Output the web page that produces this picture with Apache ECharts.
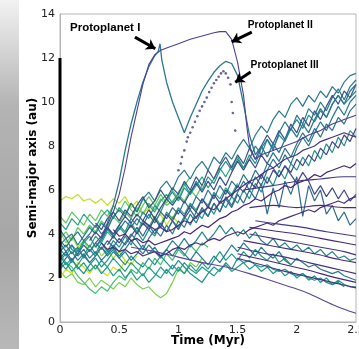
<!DOCTYPE html>
<html><head><meta charset="utf-8">
<script src="https://cdn.jsdelivr.net/npm/echarts/dist/echarts.min.js"></script>
<style>html,body{margin:0;padding:0;background:#fff}#c{width:359px;height:349px}</style>
</head><body><div id="c"></div>
<script>
// time grid (Myr)
const T = [0,0.05,0.1,0.15,0.2,0.25,0.3,0.35,0.4,0.45,0.5,0.55,0.6,0.65,0.7,0.75,0.8,0.85,0.9,0.95,1,1.05,1.1,1.15,1.2,1.25,1.3,1.35,1.4,1.45,1.5,1.55,1.6,1.65,1.7,1.75,1.8,1.85,1.9,1.95,2,2.05,2.1,2.15,2.2,2.25,2.3,2.35,2.4,2.45,2.5];
const xTicks = [0,0.5,1,1.5,2,2.5];
const yTicks = [0,2,4,6,8,10,12,14];
const diskRange = [2,12];

// semi-major axis (au) of bodies on the time grid
const s1 = [5.5,5.7,5.6,5.8,5.5,5.6,5.4,5.6,5.3,5.6, 5.4,5.7,5.2,5.5,4.9,5.2,4.6,4.9,4.4,4.8, 4.5];
const s2 = [2.3,2.0,2.2,1.8,1.7,2.0,1.6,1.9,1.7,1.5, 1.8,1.6,2.0,1.7,1.5,1.6,1.3,1.1,1.3,1.8, 2.4,2.2,2.7,2.5,2.9];
const s3 = [3.1,2.7,2.5,2.1,1.8,1.5,1.3,1.6,1.4,1.8, 2.1,1.9,2.4,2.2,2.7,2.4,2.9,2.6,3.1,2.8, 3.3,3.0,3.5,3.2,3.6,3.4];
const s4 = [2.0,2.4,2.2,2.7,2.5,2.2,2.6,2.3,2.1,2.5, 2.3,2.8,2.6,3.0];
const s5 = [4.1,3.6,3.9,3.4,3.7,3.2,3.5,3.0,3.3,2.9, 3.2,2.8];
const s6 = [3.8,4.1,3.7,4.3,4.0,4.4,4.1,4.6,4.3,4.8, 4.5,5.0,4.7,5.2,4.9,5.4,5.1,5.6,5.3,5.5, 5.8,5.5,6.0,5.7,6.2];
const s7 = [3.3,3.0,3.5,3.2,3.7,3.4,3.9,3.6,4.1,3.8, 4.3,4.0,4.5,4.1,4.6,4.3,4.8,4.4,5.0,4.7, 5.2,4.9,5.4,5.1,5.6,5.3,5.9,5.6,6.1,5.8, 6.3];
const s8 = [2.8,3.1,2.7,3.3,3.0,3.5,3.1,3.6,3.2,3.7, 3.4,3.9,3.5,4.1,3.7,4.2,3.9,4.5,4.1,4.6, 4.3,4.8,4.4,5.0,4.7,5.3,4.9,5.5,5.2,5.7, 5.4,6.0,5.6,6.3,5.9,6.6,6.2,6.9,6.5,7.2, 6.9,7.5,7.1,7.8,7.4,8.1,7.7,8.4,8.0,8.7, 8.4];
const s9 = [4.2,3.8,4.0,3.5,3.9,4.3,4.0,4.5,4.2,4.8, 5.1,4.8,5.4,5.0,5.6,5.9,5.5,6.1,6.4,6.0, 6.6,6.9,6.5,7.0,7.3,6.9,7.5,7.2,7.7,7.4, 7.9,8.3,7.9,8.5,8.9,8.6,9.2,9.6,9.3,9.9, 10.2,9.8,10.3,10.0,10.5,10.2,10.7,10.4,10.9,11.2, 11.3];
const s10 = [3.5,3.8,3.3,3.1,3.6,3.9,3.4,3.7,4.2,3.9, 4.4,4.1,4.7,4.4,5.0,4.7,5.3,5.0,5.6,5.9, 5.5,6.1,5.8,6.4,6.0,6.6,6.3,6.9,7.3,6.9, 7.4,7.0,7.6,7.2,7.9,8.3,7.9,8.5,8.2,8.8, 9.2,8.8,9.4,9.1,9.6,9.3,9.9,10.3,9.9,10.2, 10.5];
const s11 = [2.5,2.9,3.2,2.8,3.1,2.7,3.0,3.4,3.1,3.5, 3.2,3.6,4.0,3.7,3.3,3.8,4.2,3.9,4.4,4.0, 4.6,4.3,4.9,4.5,5.1,4.8,5.4,5.0,5.7,5.3, 5.9,6.4,6.0,6.6,6.2,6.9,7.4,7.0,7.6,7.2, 7.9,8.4,8.0,8.6,9.1,8.7,9.3,9.8,9.4,10.0, 10.3];
const s12 = [null,null,null,null,null,null,4.5,4.2,4.7,5.0, 4.6,5.1,4.8,5.3,5.7,5.2,5.5,6.0,5.6,6.1, 5.8,6.4,6.0,6.6,6.2,6.9,6.5,7.1,7.5,7.0, 7.6,7.2,7.9,7.4,8.0,8.5,8.1,8.7,8.3,9.0, 8.6,9.3,8.9,9.6,9.2,9.8,10.3,9.9,10.5,10.2, 10.8];
const s13 = [null,null,null,null,null,null,null,null,3.5,3.9, 3.6,4.0,4.4,4.0,4.5,4.2,4.7,4.3,4.9,4.6, 5.1,4.8,5.3,5.0,5.6,5.2,5.8,5.4,6.0,5.7, 6.2,5.9,6.4,6.1,6.7,6.3,6.9,6.6,7.1,6.8, 7.4,7.1,7.6,7.3,7.9,7.6,8.2,7.9,8.5,8.2, 8.8];
const s14 = [null,null,null,null,null,null,null,3.6,3.3,3.4, 3.2,3.3,3.1,3.2,3.0,3.1,3.2,3.0,3.1,3.3, 3.4,3.3,3.5,3.6,3.5,3.7,3.8,3.7,3.9,4.0, 4.1,4.0,4.2,4.3,4.4,4.5,4.4,4.6,4.7,4.8, 4.9,5.0,5.1,5.0,5.2,5.3,5.4,5.5,5.4,5.6, 5.7];
const s15 = [null,null,null,null,null,null,null,null,null,4.2, 3.9,4.0,3.7,3.8,3.6,3.7,3.5,3.6,3.7,3.8, 3.9,4.1,4.0,4.2,4.4,4.3,4.5,4.7,4.8,5.0, 5.1,5.3,5.4,5.6,5.5,5.7,5.9,6.0,6.2,6.1, 6.3,6.4,6.5,6.7,6.6,6.8,6.9,7.0,7.1,7.0, 7.2];
const s16 = [null,null,null,null,null,null,null,null,null,null, null,null,null,null,4.6,4.4,4.2,4.3,4.1,4.2, 4.4,4.6,4.5,4.8,5.0,5.2,5.1,5.4,5.6,5.8, 6.0,6.2,6.4,6.5,6.7,6.9,7.0,7.2,7.4,7.5, 7.6,7.8,7.9,8.0,8.2,8.3,8.4,8.5,8.6,8.5, 8.4];
const s17 = [2.7,2.4,2.8,2.5,2.2,2.6,2.9,2.5,2.8,3.2, 2.9,2.6,3.0,2.7,2.5,2.9,2.6,3.0,2.7,2.4, 2.8,2.5,2.2,2.0,1.8,2.2,2.5,2.3,2.7,2.4, 2.9,2.7,2.8,2.6,2.5,2.6,2.4,2.3,2.4,2.2, 2.1,2.2,2.0,1.9,2.0,1.8,1.7,1.8,1.6];
const s18 = [3.6,3.2,3.5,3.0,3.3,2.9,3.2,2.8,3.1,3.4, 3.0,3.3,3.7,3.4,3.1,3.5,3.2,2.9,3.3,3.0, 3.4,3.1,2.8,3.2,2.9,2.6,3.0,2.7,3.1,3.5, 3.2,3.6,3.3,3.0,3.4,3.1,2.9,3.2,2.8,2.6, 2.9,2.7,2.5,2.6,2.4,2.3,2.2,2.3,2.1,2.0, 1.9];
const s19 = [4.5,4.2,4.7,4.4,4.9,4.6,4.3,4.8,5.1,4.7, 5.2,4.9,5.4,5.0,5.6,5.3,5.0,5.5,5.8,5.4, 5.9,6.3,5.8,6.2,6.6,6.1,6.5,7.0,6.6,7.1, 7.5,7.0,7.4];
const s20 = [null,null,null,null,null,3.7,4.1,3.8,4.3,4.0, 4.4,4.8,4.5,4.9,4.6,5.1,4.7,5.2,5.6,5.3, 5.7,5.4,5.9,6.3,5.9,6.4,6.0,6.6,6.2,6.8, 7.3,6.9,7.4,7.0,7.6,7.2,7.0,6.6,7.1,6.7, 6.3,6.8,6.4,5.8,6.2,5.7,6.1,5.6,6.0,5.5, 5.8];
const s21 = [2.9,3.2,2.8,3.1,3.5,3.2,3.6,3.3,3.7,3.4, 3.8,3.5,3.9,4.3,3.9,4.4,4.0,4.5,4.1,4.6, 4.2,4.7,5.1,4.7,5.2,4.8,5.4,5.0,5.6,5.2, 5.8,5.4,6.0,5.6,6.3,4.9,6.1,5.2,6.4,5.8, 6.6,4.8,6.2,5.5,6.0,4.9,5.3,4.6,5.0,4.4, 4.7];
const s22 = [3.7,3.4,3.8,4.1,3.7,4.0,4.4,4.0,4.3,3.9, 4.2,4.6,4.3,4.7,4.4,4.9,4.5,5.0,4.7,5.2, 4.9,5.5,5.1,5.7,5.4,6.0,5.6,6.2,5.8,6.4, 6.1,6.7,6.3,6.9,6.5,7.2,7.7,7.3,7.9,7.5, 8.1,8.6,8.2,8.8,8.4,9.0,8.7,9.3,9.0,9.6, 9.9];
const s23 = [3.0,2.6,2.9,2.4,2.7,2.3,2.6,2.2,2.5,2.1, 2.4,2.0,2.3,1.9,2.2,1.8,2.1,2.5,2.2,2.6, 2.3,2.7,2.4,2.2,2.5,2.3,2.1,2.4,2.6,2.3, 2.5,2.7,2.4,2.6,2.3,2.5,2.2,2.4,2.1,2.3, 2.0,2.2,1.9,2.1,1.8,2.0,1.7,1.9,1.7,1.6, 1.6];
const s24 = [4.8,4.5,5.0,4.7,4.4,4.9,4.6,5.1,4.8,5.3, 5.0,5.5,5.1,4.8,5.3,5.7,5.3,5.8,5.4,6.0, 5.6,6.2,6.6];
const s25 = [3.2,3.5,3.1,3.4,2.9,3.3,3.0,3.4,3.0,3.3, 2.9,3.2,2.8,3.1,3.5,3.1,3.4,3.0,3.3,3.7, 3.4,3.8,3.4,3.7,4.1,3.7,4.0,4.4,4.0,4.3, 3.9,4.2,3.8,4.1,3.7,3.5,3.8,3.4,3.6,3.3, 3.5,3.2,3.4,3.1,3.3,3.0,3.2,2.9,3.0,2.8, 2.9];
const s26 = [2.4,2.7,2.3,2.6,3.0,2.7,2.4,2.8,2.5,2.9, 2.6,2.3,2.7,2.4,2.1,2.5,2.2,2.0,2.4,2.1, 2.5,2.2,2.6,2.3,2.7,2.4,2.8,3.2,2.8,3.1, 2.8,3.2,2.9,3.3,3.0,2.8,3.1,2.7,2.9,2.6];
const s27 = [null,null,null,null,null,null,null,null,null,null, null,null,null,null,null,null,null,null,null,null, null,null,null,null,null,null,null,null,null,null, null,null,7.4,8.0,7.6,8.3,7.8,8.6,9.1,8.7, 9.4,9.0,9.7,9.4,10.0,9.6,10.2,10.6,10.1,10.7, 11.0];

// smooth late-time orbits [time, a]
const f1 = [[0.6,3.4],[0.8,3.2],[1.0,2.95],[1.2,2.7],[1.4,2.5],[1.6,2.2],[1.8,1.85],[2.0,1.5],[2.1,1.3],[2.2,1.05],[2.3,0.8],[2.4,0.58],[2.5,0.4]];
const f2 = [[1.5,2.9],[1.7,2.6],[1.9,2.3],[2.1,2.05],[2.3,1.8],[2.5,1.55]];
const f3 = [[1.5,3.1],[1.7,2.85],[1.9,2.6],[2.1,2.35],[2.3,2.05],[2.5,1.8]];
const f4 = [[1.5,3.4],[1.7,3.15],[1.9,2.95],[2.1,2.7],[2.3,2.45],[2.5,2.2]];
const f5 = [[1.55,3.7],[1.75,3.5],[1.95,3.3],[2.15,3.1],[2.35,2.85],[2.5,2.7]];
const f6 = [[1.6,4.0],[1.8,3.8],[2.0,3.6],[2.2,3.4],[2.4,3.2],[2.5,3.05]];
const f7 = [[1.6,4.3],[1.8,4.15],[2.0,4.0],[2.2,3.8],[2.4,3.6],[2.5,3.5]];
const f8 = [[1.65,4.6],[1.85,4.45],[2.05,4.3],[2.25,4.1],[2.5,3.9]];
const u1 = [[1.6,5.2],[1.8,5.3],[2.0,5.2],[2.2,5.3],[2.4,5.2],[2.5,5.2]];
const u2 = [[1.55,6.0],[1.8,6.2],[2.0,6.4],[2.2,6.5],[2.4,6.6],[2.5,6.6]];

// protoplanets [time, a]
const protoI = [[0.3,3.4],[0.35,3.8],[0.4,4.5],[0.45,5.3],[0.5,6.4],[0.55,7.8],[0.6,9.0],[0.65,10.0],[0.7,10.9],[0.75,11.6],[0.8,12.1],[0.83,12.3],[0.845,12.65],[0.86,11.9],[0.9,10.9],[0.95,10.0],[1.0,9.3],[1.05,8.6],[1.1,9.3],[1.15,9.9],[1.2,10.5],[1.25,10.95],[1.3,11.35],[1.35,11.65],[1.4,11.85],[1.45,11.75],[1.5,11.2],[1.55,9.9],[1.6,8.5],[1.65,7.6],[1.7,8.0],[1.75,7.5],[1.8,8.1],[1.85,7.7],[1.9,8.3],[1.95,8.8],[2.0,8.4],[2.05,9.0],[2.1,8.6],[2.15,9.2],[2.2,9.7],[2.25,9.3],[2.3,9.9],[2.35,10.3],[2.4,9.9],[2.45,10.5],[2.5,10.8]];
const protoII = [[0.3,3.6],[0.35,3.9],[0.4,4.4],[0.45,5.0],[0.5,5.8],[0.55,7.0],[0.6,8.4],[0.65,9.6],[0.7,10.8],[0.75,11.7],[0.8,12.15],[0.85,12.35],[0.9,12.45],[1.0,12.65],[1.1,12.85],[1.2,13.0],[1.3,13.15],[1.35,13.2],[1.4,13.2],[1.45,12.85],[1.5,11.8],[1.55,10.3],[1.58,8.8],[1.6,8.0],[1.65,7.4],[1.7,7.6],[1.8,7.8],[1.9,8.0],[2.0,8.2],[2.1,8.5],[2.2,8.7],[2.3,9.0],[2.4,9.2],[2.5,9.4]];
const protoIII = [[1.0,6.9],[1.02,7.2],[1.03,7.5],[1.05,7.8],[1.07,8.2],[1.08,8.4],[1.1,8.6],[1.12,8.85],[1.14,9.1],[1.16,9.35],[1.18,9.6],[1.2,9.8],[1.22,10.0],[1.24,10.2],[1.26,10.45],[1.28,10.65],[1.3,10.85],[1.32,11.0],[1.34,11.15],[1.36,11.3],[1.38,11.4],[1.4,11.3],[1.42,11.1],[1.44,10.8],[1.45,10.0],[1.46,9.5],[1.48,8.7]];

// annotations (data coordinates)
const labels = [
  {name:'Protoplanet I', at:[0.085,13.36], size:11.5},
  {name:'Protoplanet II', at:[1.585,13.5], size:10.2},
  {name:'Protoplanet III', at:[1.61,11.68], size:10.2}
];
const arrows = [
  [[0.633,12.95],[0.805,12.42]],
  [[1.62,13.18],[1.45,12.73]],
  [[1.61,11.36],[1.48,10.9]]
];

const bulk = [
  [s1,'#bddf26'],[s2,'#7ad151'],[s3,'#44bf70'],[s4,'#d2e21b'],[s5,'#a0da39'],[s6,'#5ec962'],
  [s24,'#5ec962'],[s19,'#22a884'],[s7,'#22a884'],[s23,'#1f9e89'],[s26,'#1f9e89'],
  [s8,'#21918c'],[s17,'#21918c'],[s10,'#21918c'],[s25,'#26828e'],[s9,'#2a788e'],[s11,'#2a788e'],
  [s18,'#2a788e'],[s22,'#2c728e'],[s21,'#31688e'],[s27,'#2a788e'],[s12,'#3b528b'],[s20,'#3e4a89'],
  [s13,'#414487'],[s14,'#472d7b'],[s15,'#482475'],[s16,'#46337e']
];
const smooth = [[f1,'#5b4696'],[f2,'#46337e'],[f3,'#482878'],[f4,'#46337e'],[f5,'#472d7b'],[f6,'#46337e'],[f7,'#482878'],[f8,'#443983'],[u1,'#472d7b'],[u2,'#443983']];

const series = [];
bulk.forEach(([v,c])=>{
  series.push({type:'line', data:T.map((t,i)=>[t, v[i]==null?'-':v[i]]), showSymbol:false, connectNulls:false,
    lineStyle:{color:c,width:1.2}, itemStyle:{color:c}, silent:true, z:2});
});
smooth.forEach(([v,c])=>{
  series.push({type:'line', data:v, smooth:0.3, showSymbol:false, lineStyle:{color:c,width:1.1}, silent:true, z:3});
});
series.push({type:'line', data:protoI, showSymbol:false, lineStyle:{color:'#2a788e',width:1.3}, silent:true, z:4});
series.push({type:'line', data:protoII, showSymbol:false, lineStyle:{color:'#4f3f93',width:1.1}, silent:true, z:4});
series.push({type:'scatter', data:protoIII, symbolSize:2.6, itemStyle:{color:'#3b3f85'}, silent:true, z:5});
series.push({type:'line', data:[[0,diskRange[0]],[0,diskRange[1]]], showSymbol:false, clip:false,
  lineStyle:{color:'#000',width:3}, silent:true, z:6});
series.push({type:'lines', coordinateSystem:'cartesian2d', data:arrows.map(a=>({coords:a})),
  symbol:['none','arrow'], symbolSize:9, lineStyle:{color:'#000',width:3,opacity:1}, silent:true, z:7});

const chart = echarts.init(document.getElementById('c'), null, {renderer:'canvas'});
chart.setOption({
  animation:false,
  graphic:[{id:'strip', type:'rect', left:0, top:0, z:-1, shape:{width:19,height:349},
    style:{fill:new echarts.graphic.LinearGradient(0,0,0,1,[{offset:0,color:'#f2f2f2'},{offset:0.3,color:'#b4b4b4'},{offset:0.7,color:'#a6a6a6'},{offset:1,color:'#b8b8b8'}])}}],
  grid:{left:60, right:3, top:14, bottom:27, containLabel:false, outerBoundsMode:'none', show:true, borderColor:'#b5b5b5', borderWidth:1},
  xAxis:{type:'value', min:xTicks[0], max:xTicks[xTicks.length-1], interval:0.5,
    name:'Time (Myr)', nameLocation:'middle', nameGap:13, nameMoveOverlap:false,
    nameTextStyle:{fontFamily:'DejaVu Sans', fontWeight:'bold', fontSize:12, color:'#000'},
    axisLine:{lineStyle:{color:'#b5b5b5'}}, axisTick:{show:false}, splitLine:{show:false},
    axisLabel:{fontFamily:'DejaVu Sans', fontSize:11, color:'#222', margin:3, showMaxLabel:true}},
  yAxis:{type:'value', min:yTicks[0], max:yTicks[yTicks.length-1], interval:2,
    name:'Semi-major axis (au)', nameLocation:'middle', nameGap:21, nameMoveOverlap:false,
    nameTextStyle:{fontFamily:'DejaVu Sans', fontWeight:'bold', fontSize:12, color:'#000'},
    axisLine:{lineStyle:{color:'#b5b5b5'}}, axisTick:{show:false}, splitLine:{show:false},
    axisLabel:{fontFamily:'DejaVu Sans', fontSize:11, color:'#222', margin:5}},
  series:series
});
chart.setOption({graphic: labels.map((l,k)=>{
  const p = chart.convertToPixel({gridIndex:0}, l.at);
  return {id:'lab'+k, type:'text', x:p[0], y:p[1], z:100,
    style:{text:l.name, fill:'#000', font:'bold '+l.size+'px "Liberation Sans", Arial, sans-serif', verticalAlign:'middle', align:'left'}};
})});
</script></body></html>
